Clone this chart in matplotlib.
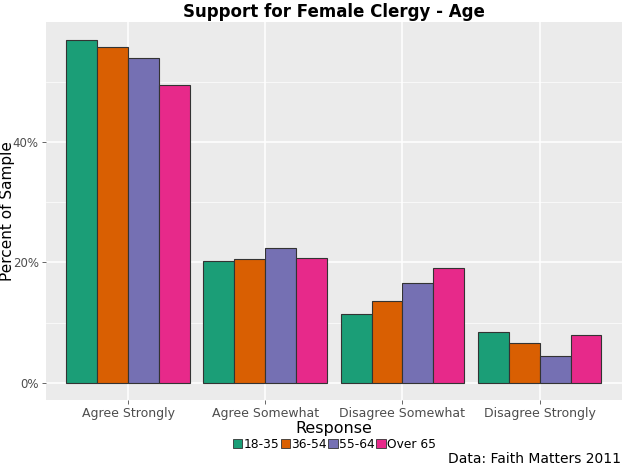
import numpy as np
import matplotlib
matplotlib.use("Agg")
import matplotlib.pyplot as plt
from matplotlib.patches import Patch

# data (percent of sample)
responses = ["Agree Strongly", "Agree Somewhat", "Disagree Somewhat", "Disagree Strongly"]
age_groups = ["18-35", "36-54", "55-64", "Over 65"]
pct_18_35 = [57.0, 20.3, 11.4, 8.4]
pct_36_54 = [55.8, 20.5, 13.6, 6.6]
pct_55_64 = [53.9, 22.4, 16.5, 4.4]
pct_over65 = [49.5, 20.8, 19.1, 8.0]
colors = ["#1B9E77", "#D95F02", "#7570B3", "#E7298A"]

series = [pct_18_35, pct_36_54, pct_55_64, pct_over65]

plt.rcParams['font.family'] = ['DejaVu Sans']

fig = plt.figure(figsize=(6.24, 4.68), dpi=100)
ax = fig.add_axes([0.0732, 0.1453, 0.9236, 0.8068])
ax.set_facecolor("#EBEBEB")

x = np.arange(1, len(responses) + 1)
width = 0.9 / len(series)
for i, (vals, col) in enumerate(zip(series, colors)):
    offs = (i - 1.5) * width
    ax.bar(x + offs, vals, width=width, color=col, edgecolor="#333333",
           linewidth=0.8, zorder=3)

ymax = max(max(s) for s in series)
pad = ymax * 0.05
ax.set_ylim(-pad, ymax + pad)
ax.set_xlim(0.4, 4.6)

ax.set_yticks([0, 20, 40])
ax.set_yticks([10, 30, 50], minor=True)
ax.set_yticklabels(["0%", "20%", "40%"])
ax.set_xticks(x)
ax.set_xticklabels(responses)

ax.grid(which="major", color="white", linewidth=1.1, zorder=0)
ax.grid(which="minor", axis="y", color="white", linewidth=0.5, zorder=0)
ax.set_axisbelow(True)
for s in ax.spines.values():
    s.set_visible(False)
ax.tick_params(axis="both", which="major", colors="#4D4D4D", labelsize=9,
               length=3, width=0.6, pad=2)
ax.tick_params(axis="y", which="major", labelsize=8.5)
ax.tick_params(axis="y", which="minor", length=0)

ax.set_title("Support for Female Clergy - Age", fontsize=12, fontweight="bold",
             pad=4)
ax.set_xlabel("Response", fontsize=11.5, labelpad=1)
ax.set_ylabel("Percent of Sample", fontsize=11)
ax.yaxis.set_label_coords(-0.054, 0.5)

handles = [Patch(facecolor=c, edgecolor="#333333", linewidth=0.6) for c in colors]
fig.legend(handles, age_groups, loc="center", bbox_to_anchor=(0.536, 0.051),
           ncol=4, frameon=False, fontsize=8.8, handlelength=0.75, handleheight=0.75,
           handletextpad=0.15, columnspacing=0.1, borderpad=0)

fig.text(0.995, 0.004, "Data: Faith Matters 2011", ha="right", va="bottom",
         fontsize=10)

fig.savefig("out.png", dpi=100)
